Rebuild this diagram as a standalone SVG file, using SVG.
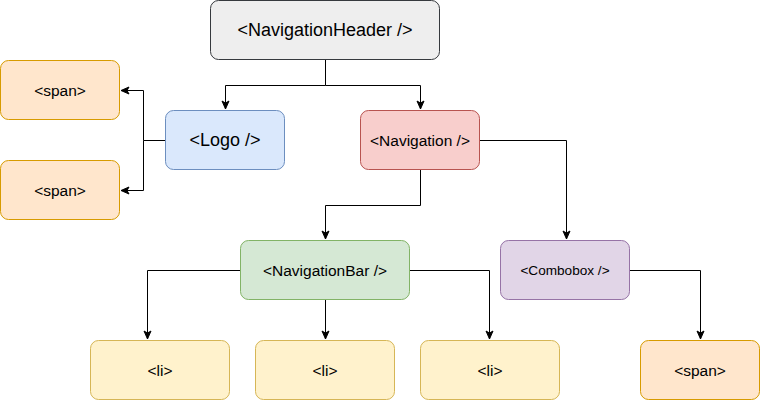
<svg xmlns="http://www.w3.org/2000/svg" width="761" height="401" viewBox="0 0 761 401">
<defs>
<style>
.box{stroke-width:1}
.t{font-family:"Liberation Sans",Arial,sans-serif;fill:#000;text-anchor:middle;dominant-baseline:central}
.gray{fill:#eeeeee;stroke:#36393d}
.blue{fill:#dae8fc;stroke:#6c8ebf}
.red{fill:#f8cecc;stroke:#b85450}
.green{fill:#d5e8d4;stroke:#82b366}
.purple{fill:#e1d5e7;stroke:#9673a6}
.orange{fill:#ffe6cc;stroke:#d79b00}
.yellow{fill:#fff2cc;stroke:#d6b656}
.edge{fill:none;stroke:#000;stroke-width:1}
</style>
<marker id="arr" markerUnits="userSpaceOnUse" markerWidth="10" markerHeight="10" viewBox="0 0 10 10" refX="9" refY="5" orient="auto">
<path d="M1,1.5 L9,5 L1,8.5 L3,5 Z" fill="#000" stroke="#000" stroke-width="1"/>
</marker>
</defs>
<g id="connectors">
<path class="edge" d="M325.5,60 V85.5 H225.5 V109" marker-end="url(#arr)"/>
<path class="edge" d="M325.5,85.5 H420.5 V109" marker-end="url(#arr)"/>
<path class="edge" d="M165,140.5 H143.5 V90.5 H121" marker-end="url(#arr)"/>
<path class="edge" d="M143.5,140.5 V190.5 H121" marker-end="url(#arr)"/>
<path class="edge" d="M420.5,170 V205.5 H325.5 V239" marker-end="url(#arr)"/>
<path class="edge" d="M480,140.5 H566.5 V239" marker-end="url(#arr)"/>
<path class="edge" d="M240,270.5 H147.5 V339" marker-end="url(#arr)"/>
<path class="edge" d="M325.5,300 V339" marker-end="url(#arr)"/>
<path class="edge" d="M410,270.5 H489.5 V339" marker-end="url(#arr)"/>
<path class="edge" d="M630,270.5 H700.5 V339" marker-end="url(#arr)"/>
</g>
<g id="navigationHeader"><rect class="box gray" x="210.5" y="0.5" width="229" height="59" rx="8"/><text class="t" x="325" y="30" font-size="18">&lt;NavigationHeader /&gt;</text></g>
<g id="span1"><rect class="box orange" x="0.5" y="60.5" width="119" height="59" rx="8"/><text class="t" x="60" y="90" font-size="15.5">&lt;span&gt;</text></g>
<g id="span2"><rect class="box orange" x="0.5" y="160.5" width="119" height="59" rx="8"/><text class="t" x="60" y="190" font-size="15.5">&lt;span&gt;</text></g>
<g id="logo"><rect class="box blue" x="165.5" y="110.5" width="119" height="59" rx="8"/><text class="t" x="225" y="140" font-size="18">&lt;Logo /&gt;</text></g>
<g id="navigation"><rect class="box red" x="360.5" y="110.5" width="119" height="59" rx="8"/><text class="t" x="420" y="140" font-size="15.5">&lt;Navigation /&gt;</text></g>
<g id="navigationBar"><rect class="box green" x="240.5" y="240.5" width="169" height="59" rx="8"/><text class="t" x="325" y="270" font-size="15.5">&lt;NavigationBar /&gt;</text></g>
<g id="combobox"><rect class="box purple" x="500.5" y="240.5" width="129" height="59" rx="8"/><text class="t" x="565" y="270" font-size="13.6">&lt;Combobox /&gt;</text></g>
<g id="li1"><rect class="box yellow" x="90.5" y="340.5" width="139" height="59" rx="8"/><text class="t" x="160" y="370" font-size="15.5">&lt;li&gt;</text></g>
<g id="li2"><rect class="box yellow" x="255.5" y="340.5" width="139" height="59" rx="8"/><text class="t" x="325" y="370" font-size="15.5">&lt;li&gt;</text></g>
<g id="li3"><rect class="box yellow" x="420.5" y="340.5" width="139" height="59" rx="8"/><text class="t" x="490" y="370" font-size="15.5">&lt;li&gt;</text></g>
<g id="span3"><rect class="box orange" x="640.5" y="340.5" width="119" height="59" rx="8"/><text class="t" x="700" y="370" font-size="15.5">&lt;span&gt;</text></g>
</svg>
